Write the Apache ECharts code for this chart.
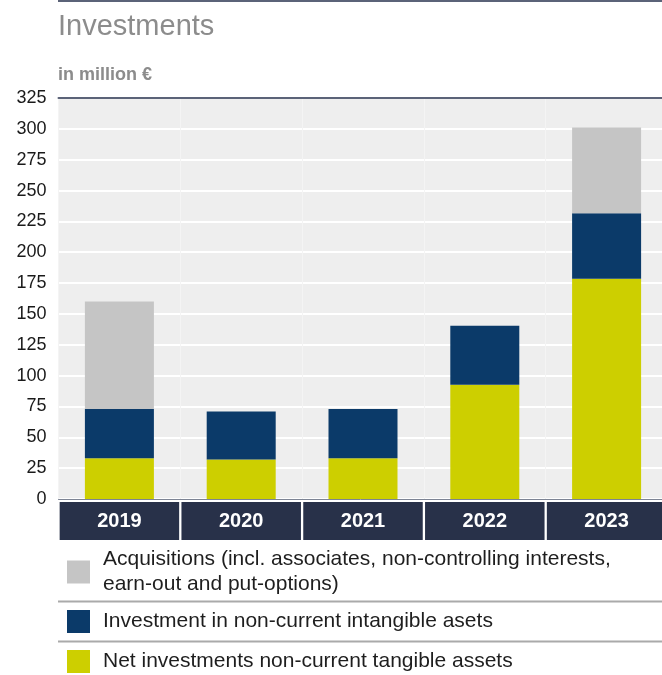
<!DOCTYPE html>
<html>
<head>
<meta charset="utf-8">
<title>Investments</title>
<script src="https://cdn.jsdelivr.net/npm/echarts@6/dist/echarts.min.js"></script>
<style>
  html, body { margin: 0; padding: 0; background: #ffffff; overflow: hidden; }
  #chart { width: 662px; height: 675px; }
</style>
</head>
<body>
<div id="chart"></div>
<script>
// Years on the category axis
const years = ['2019', '2020', '2021', '2022', '2023'];

// Values in million €, stacked bottom to top
const tangibleAssets = [33, 32, 33, 92.5, 178.5];
const intangibleAssets = [40, 39, 40, 48, 53];
const acquisitions = [87, 0, 0, 0, 69.5];

// Value axis ticks
const yMin = 0;
const yMax = 325;
const yStep = 25;

// Series names as shown in the legend
const nameAcq = 'Acquisitions (incl. associates, non-controlling interests, earn-out and put-options)';
const nameIntangible = 'Investment in non-current intangible asets';
const nameTangible = 'Net investments non-current tangible assets';

const FONT = '"Liberation Sans", Arial, Helvetica, sans-serif';
const COL_TANGIBLE = '#cdcf00';
const COL_INTANGIBLE = '#0b3a69';
const COL_ACQ = '#c5c5c5';
const COL_BAND = '#283149';

const chart = echarts.init(document.getElementById('chart'));

const legendBase = {
  orient: 'vertical',
  left: 67,
  padding: 0,
  itemWidth: 23,
  itemHeight: 23,
  icon: 'rect',
  selectedMode: false,
  textStyle: {
    fontFamily: FONT,
    fontSize: 21,
    color: '#1e1e1e',
    lineHeight: 25,
    padding: [0, 0, 0, 8]
  }
};

chart.setOption({
  animation: false,
  textStyle: { fontFamily: FONT },
  title: [
    {
      text: 'Investments',
      left: 58,
      top: 12,
      padding: 0,
      textStyle: { fontFamily: FONT, fontSize: 29, fontWeight: 'normal', color: '#8c8c8c' }
    },
    {
      text: 'in million €',
      left: 58,
      top: 66,
      padding: 0,
      textStyle: { fontFamily: FONT, fontSize: 18, fontWeight: 'bold', color: '#8c8c8c' }
    }
  ],
  legend: [
    Object.assign({}, legendBase, {
      top: 547,
      data: [nameAcq],
      formatter: function () {
        return 'Acquisitions (incl. associates, non-controlling interests,\nearn-out and put-options)';
      }
    }),
    Object.assign({}, legendBase, { top: 609, data: [nameIntangible] }),
    Object.assign({}, legendBase, { top: 649, data: [nameTangible] })
  ],
  graphic: [
    // rule above the heading
    { type: 'rect', shape: { x: 58, y: 0, width: 604, height: 2 }, style: { fill: '#5b6378' }, silent: true },
    // separators between legend rows
    { type: 'rect', shape: { x: 58, y: 600.5, width: 604, height: 2 }, style: { fill: '#aaaaaa' }, silent: true },
    { type: 'rect', shape: { x: 58, y: 640.5, width: 604, height: 2 }, style: { fill: '#aaaaaa' }, silent: true }
  ],
  grid: {
    left: 58.5,
    width: 609,
    top: 98,
    bottom: 176,
    outerBoundsMode: 'none',
    containLabel: false,
    show: true,
    backgroundColor: '#eeeeee',
    borderWidth: 0
  },
  xAxis: [
    {
      type: 'category',
      data: years,
      offset: 2,
      axisTick: { show: false },
      axisLine: { show: true, lineStyle: { color: '#7d8494', width: 1 } },
      splitLine: { show: true, lineStyle: { color: '#f4f4f4', width: 1 } },
      axisLabel: {
        margin: 1,
        interval: 0,
        color: '#ffffff',
        fontFamily: FONT,
        fontSize: 20,
        fontWeight: 'bold',
        backgroundColor: COL_BAND,
        width: 119.5,
        height: 38,
        lineHeight: 38,
        align: 'center',
        verticalAlign: 'top'
      }
    },
    {
      type: 'category',
      data: years,
      position: 'top',
      axisTick: { show: false },
      axisLabel: { show: false },
      axisLine: { show: true, lineStyle: { color: '#5b6378', width: 2 } }
    }
  ],
  yAxis: {
    type: 'value',
    min: yMin,
    max: yMax,
    interval: yStep,
    axisLine: { show: false },
    axisTick: { show: false },
    axisLabel: {
      margin: 12,
      color: '#1a1a1a',
      fontFamily: FONT,
      fontSize: 18
    },
    splitLine: { show: true, lineStyle: { color: '#ffffff', width: 2 } }
  },
  series: [
    {
      name: nameTangible,
      type: 'bar',
      stack: 'total',
      barWidth: 69,
      itemStyle: { color: COL_TANGIBLE },
      data: tangibleAssets
    },
    {
      name: nameIntangible,
      type: 'bar',
      stack: 'total',
      barWidth: 69,
      itemStyle: { color: COL_INTANGIBLE },
      data: intangibleAssets
    },
    {
      name: nameAcq,
      type: 'bar',
      stack: 'total',
      barWidth: 69,
      itemStyle: { color: COL_ACQ },
      data: acquisitions
    }
  ]
});
</script>
</body>
</html>
